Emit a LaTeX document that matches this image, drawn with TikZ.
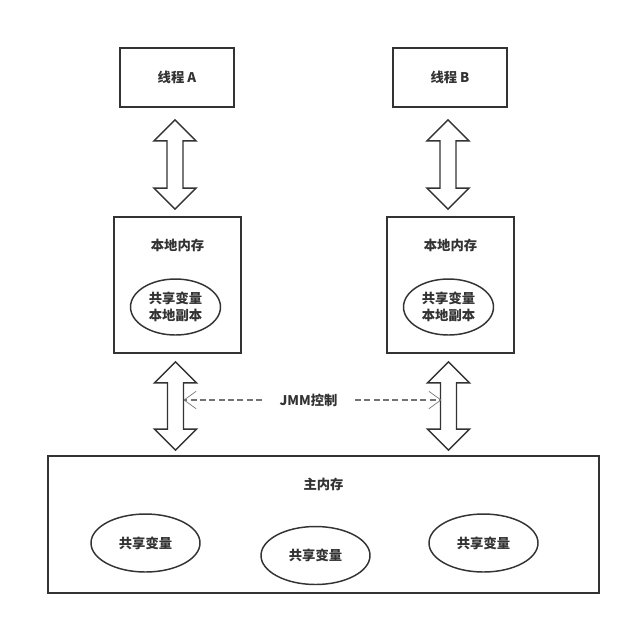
\documentclass[tikz,border=0pt]{standalone}
\usepackage{fontspec}
\setmainfont{Noto Sans CJK SC}
\usetikzlibrary{arrows.meta,calc,positioning,shapes.geometric}

\begin{document}
\begin{tikzpicture}[x=0.75pt,y=-0.75pt,
  font=\fontsize{10}{13}\selectfont\bfseries,text=black!80,
  box/.style={draw=black!80,line width=1.4pt,inner sep=0pt},
  var/.style={draw=black!80,ellipse,line width=1.1pt,inner sep=0pt,align=center},
  fat/.style={draw=black!80,line width=1.1pt,fill=white,line join=miter},
  ctl/.style={draw=black!55,line width=0.8pt,dash pattern=on 4.5pt off 2.5pt,
    -{Straight Barb[length=9pt,width=13pt,line width=0.5pt]}}]

\useasboundingbox (0,0) rectangle (631,626);

% threads
\node[box,minimum width=85.5pt,minimum height=44.25pt] (thrA) at (177,77.5) {线程 A};
\node[box,minimum width=85.5pt,minimum height=44.25pt] (thrB) at (450,77.5) {线程 B};

% local memories
\foreach \x/\n in {177.5/A,450.5/B}
{
  \node[box,minimum width=95.25pt,minimum height=102pt] (loc\n) at (\x,285) {};
  \node (locT\n) at ($(loc\n.north)+(0,29)$) {本地内存};
  \node[var,minimum width=67.5pt,minimum height=42pt] (copy\n) at ($(loc\n.center)+(-2,22)$) {共享变量\\本地副本};
}

% main memory
\node[box,minimum width=413.25pt,minimum height=102.75pt] (main) at (323.5,524.5) {};
\node (mainT) at ($(main.north)+(0,29)$) {主内存};
\node[var,minimum width=81.75pt,minimum height=43.5pt] (var1) at (145.5,543) {共享变量};
\node[var,minimum width=81.75pt,minimum height=43.5pt] (var2) at (315.5,555.5) {共享变量};
\node[var,minimum width=81.75pt,minimum height=43.5pt] (var3) at (483.5,543) {共享变量};

% fat double arrows
\foreach \a/\b/\ga/\gb in {thrA/locA/12/-7,thrB/locB/12/-7,locA/main/8/-5,locB/main/8/-5}
{
  \path ($(\a.south)+(-2,\ga)$) coordinate (p) ($(\a.south |- \b.north)+(-2,\gb)$) coordinate (q);
  \draw[fat] (p) -- ++(21,21) -- ++(-13,0) -- ($(q)+(8,-21)$) -- ++(13,0) -- (q)
    -- ++(-21,-21) -- ++(13,0) -- ($(p)+(-8,21)$) -- ++(-13,0) -- cycle;
}

% JMM control
\node[inner xsep=13pt] (jmm) at (308.5,400) {JMM控制};
\coordinate (hitA) at ($(locA.south)+(6,0)$);
\coordinate (hitB) at ($(locB.south)+(-9,0)$);
\draw[ctl] (jmm.west) -- (jmm.west -| hitA);
\draw[ctl] (jmm.east) -- (jmm.east -| hitB);

\end{tikzpicture}
\end{document}
